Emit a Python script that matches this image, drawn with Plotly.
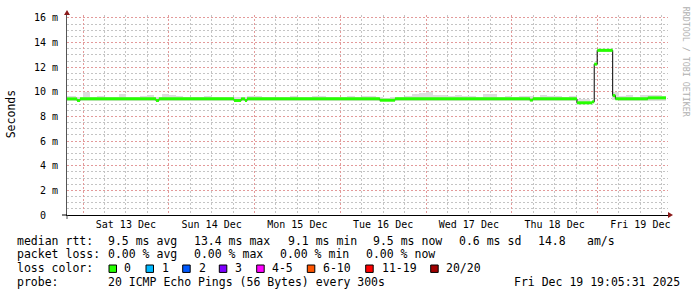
import plotly.graph_objects as go
import pandas as pd

# ---------------- data ----------------
median_times = [
    "2025-12-12 19:00", "2025-12-12 22:20", "2025-12-12 23:10", "2025-12-13 20:25",
    "2025-12-13 21:15", "2025-12-14 18:15", "2025-12-14 20:15", "2025-12-14 21:20",
    "2025-12-14 21:55", "2025-12-16 11:05", "2025-12-16 15:20", "2025-12-18 05:05",
    "2025-12-18 05:55", "2025-12-18 18:15", "2025-12-18 22:30", "2025-12-18 23:05",
    "2025-12-18 23:55", "2025-12-19 04:15", "2025-12-19 05:00", "2025-12-19 14:05",
]
median_ms = [
    9.43, 9.30, 9.43, 9.30,
    9.43, 9.30, 9.43, 9.30,
    9.43, 9.32, 9.43, 9.33,
    9.43, 9.11, 9.19, 12.25,
    13.37, 9.70, 9.43, 9.51,
]
data_end = "2025-12-19 19:10"

smoke_start = "2025-12-12 18:00"
smoke_step_hours = 2
smoke_hi = [
    9.70, 9.70, 9.60, 9.95, 9.60, 9.65, 9.55, 9.55, 9.83, 9.55,
    9.60, 9.65, 9.73, 9.55, 9.85, 9.75, 9.65, 9.55, 9.55, 9.60,
    9.65, 9.60, 9.55, 9.55, 9.55, 9.55, 9.70, 9.65, 9.55, 9.55,
    9.55, 9.60, 9.65, 9.55, 9.55, 9.65, 9.65, 9.55, 9.55, 9.60,
    9.70, 9.55, 9.65, 9.65, 9.55, 9.50, 9.55, 9.55, 9.70, 9.85,
    9.90, 10.0, 9.73, 9.73, 9.70, 9.73, 9.65, 9.65, 9.60, 9.85,
    9.85, 9.55, 9.65, 9.55, 9.65, 9.70, 9.55, 9.78, 9.70, 9.65,
    9.60, 9.65, 9.43, 9.43, None, 13.45, 13.45, 10.0, 9.65, 9.73,
    9.60, 9.73, 9.73, 9.78, 9.65,
]
smoke_lo = [9.25] * 72 + [9.05, 9.05, None, 13.30, 13.30, 9.30] + [9.25] * 7

day_label_times = ["2025-12-13 12:00", "2025-12-14 12:00", "2025-12-15 12:00",
                   "2025-12-16 12:00", "2025-12-17 12:00", "2025-12-18 12:00",
                   "2025-12-19 12:00"]
day_labels = ["Sat 13 Dec", "Sun 14 Dec", "Mon 15 Dec", "Tue 16 Dec",
              "Wed 17 Dec", "Thu 18 Dec", "Fri 19 Dec"]

y_tick_values = [0, 2, 4, 6, 8, 10, 12, 14, 16]
y_tick_labels = ["0\u00a0\u00a0", "2 m", "4 m", "6 m", "8 m", "10 m", "12 m", "14 m", "16 m"]

rtt_stats = ["9.5 ms avg", "13.4 ms max", "9.1 ms min", "9.5 ms now", "0.6 ms sd", "14.8", "am/s"]
loss_stats = ["0.00 % avg", "0.00 % max", "0.00 % min", "0.00 % now"]
loss_labels = ["0", "1", "2", "3", "4-5", "6-10", "11-19", "20/20"]
loss_colors = ["#26ff00", "#00b8ff", "#0059ff", "#7e00ff", "#ff00ff", "#ff5500", "#ff0000", "#a10000"]
probe_text = "20 ICMP Echo Pings (56 Bytes) every 300s"
timestamp_text = "Fri Dec 19 19:05:31 2025"
watermark = "RRDTOOL / TOBI OETIKER"

x_range = ["2025-12-12 19:31", "2025-12-19 19:44"]
y_max = 16.24

# ---------------- geometry helpers ----------------
W, H = 697, 297
ML, MR, MT, MB = 67, 29, 13, 82
PW, PH = W - ML - MR, H - MT - MB


def px(xp):
    return (xp - ML) / PW


def py(yp):
    return (H - MB - yp) / PH


MONO = "DejaVu Sans Mono"
MAJOR = "#e39a9a"
MINOR = "#c4c4c4"
DASH = "2px,2px"

fig = go.Figure()

# smoke blocks
t0 = pd.Timestamp(smoke_start)
step = pd.Timedelta(hours=smoke_step_hours)
end_ts = pd.Timestamp(data_end)
cx, cy, cb, cw = [], [], [], []
for i, (lo, hi) in enumerate(zip(smoke_lo, smoke_hi)):
    if lo is None or hi is None:
        continue
    s = t0 + i * step
    e = min(s + step, end_ts)
    if e <= s:
        continue
    cx.append(s + (e - s) / 2)
    cw.append((e - s).total_seconds() * 1000)
    cb.append(lo)
    cy.append(hi - lo)
fig.add_trace(go.Bar(x=cx, y=cy, base=cb, width=cw,
                     marker=dict(color="#dddddd", line=dict(width=0)),
                     hoverinfo="skip", showlegend=False))

# black step line of the median
mt = [pd.Timestamp(t) for t in median_times] + [end_ts]
mv = list(median_ms) + [median_ms[-1]]
fig.add_trace(go.Scatter(x=mt, y=mv, mode="lines",
                         line=dict(color="#000000", width=1, shape="hv"),
                         hoverinfo="skip", showlegend=False))

# green horizontal segments (loss 0)
gx, gy = [], []
for i in range(len(median_ms)):
    gx += [mt[i], mt[i + 1], None]
    gy += [median_ms[i], median_ms[i], None]
fig.add_trace(go.Scatter(x=gx, y=gy, mode="lines",
                         line=dict(color=loss_colors[0], width=3),
                         connectgaps=False, hoverinfo="skip", showlegend=False))

# invisible carrier for the day-label axis
fig.add_trace(go.Scatter(x=[day_label_times[0]], y=[0], xaxis="x2", mode="markers",
                         marker=dict(opacity=0), hoverinfo="skip", showlegend=False))

fig.update_layout(
    width=W, height=H,
    margin=dict(l=ML, r=MR, t=MT, b=MB, pad=0),
    paper_bgcolor="white", plot_bgcolor="white",
    showlegend=False,
    font=dict(family=MONO, size=10, color="black"),
    bargap=0,
    xaxis=dict(
        type="date", range=x_range, showticklabels=False, ticks="",
        tickmode="linear", tick0="2025-12-13 00:00", dtick=86400000,
        showgrid=True, gridcolor=MAJOR, gridwidth=1, griddash=DASH,
        minor=dict(tickmode="linear", tick0="2025-12-13 00:00", dtick=6 * 3600000,
                   showgrid=True, gridcolor=MINOR, gridwidth=1, griddash=DASH),
        showline=True, linecolor="#000000", linewidth=1, zeroline=False,
    ),
    xaxis2=dict(
        type="date", range=x_range, overlaying="x", anchor="y", side="bottom",
        tickmode="array", tickvals=day_label_times, ticktext=day_labels,
        showgrid=False, ticks="", showline=False, zeroline=False,
        ticklabelstandoff=2,
        tickfont=dict(family=MONO, size=10, color="black"),
    ),
    yaxis=dict(
        range=[0, y_max], tickmode="array", tickvals=y_tick_values, ticktext=y_tick_labels,
        showgrid=True, gridcolor=MAJOR, gridwidth=1, griddash=DASH,
        minor=dict(tickmode="linear", tick0=0, dtick=0.5, showgrid=True,
                   gridcolor=MINOR, gridwidth=1, griddash=DASH),
        showline=True, linecolor="#555555", linewidth=1, zeroline=False,
        ticks="", ticklabelstandoff=6,
        tickfont=dict(family=MONO, size=10, color="black"),
    ),
)

ARROW = "#8b1a1a"
shapes = [
    dict(type="path", xref="paper", yref="paper", xsizemode="pixel", ysizemode="pixel",
         xanchor=0, yanchor=1, path="M -3,0 L 3,0 L 0,5 Z",
         fillcolor=ARROW, line=dict(color=ARROW, width=0)),
    dict(type="path", xref="paper", yref="paper", xsizemode="pixel", ysizemode="pixel",
         xanchor=1, yanchor=0, path="M 0,-3 L 0,3 L 5,0 Z",
         fillcolor=ARROW, line=dict(color=ARROW, width=0)),
    dict(type="path", xref="paper", yref="paper", xsizemode="pixel", ysizemode="pixel",
         xanchor=0, yanchor=0, path="M 0,0 L 0,-4", line=dict(color="#555555", width=1)),
    dict(type="path", xref="paper", yref="paper", xsizemode="pixel", ysizemode="pixel",
         xanchor=0, yanchor=0, path="M 0,0 L -5,0", line=dict(color="#000000", width=1)),
]

# legend boxes
box_left = [109, 146, 182.7, 219.3, 256.7, 307.3, 365.7, 430.7]
for bl, col in zip(box_left, loss_colors):
    shapes.append(dict(type="rect", xref="paper", yref="paper",
                       x0=px(bl), x1=px(bl + 7.5), y0=py(273), y1=py(265.5),
                       fillcolor=col, line=dict(color="#000000", width=1)))
fig.update_layout(shapes=shapes)

LF = dict(family=MONO, size=11.5, color="black")
ann = []


def text(xp, yp, s, **kw):
    d = dict(x=px(xp - 1), y=py(yp), xref="paper", yref="paper", text=s,
             showarrow=False, xanchor="left", yanchor="middle", font=LF)
    d.update(kw)
    ann.append(d)


y1, y2, y3, y4 = 241.3, 254.7, 269.0, 282.5
text(16, y1, "median rtt:")
for xp, s in zip([107.3, 193.3, 286.7, 372.3, 458.3, 537.3, 586], rtt_stats):
    text(xp, y1, s)
text(16, y2, "packet loss:")
for xp, s in zip([107.3, 193.3, 279.3, 365], loss_stats):
    text(xp, y2, s)
text(16, y3, "loss color:")
for xp, s in zip([123.3, 161, 197.7, 234.3, 271, 321.7, 380.7, 445.3], loss_labels):
    text(xp, y3, s)
text(16, y4, "probe:")
text(107.3, y4, probe_text)
text(513.3, y4, timestamp_text)

ann.append(dict(x=px(10.8), y=py(113.5), xref="paper", yref="paper", text="Seconds",
                showarrow=False, xanchor="center", yanchor="middle", textangle=-90,
                font=dict(family=MONO, size=11.5, color="black")))
ann.append(dict(x=px(686.7), y=py(60), xref="paper", yref="paper", text=watermark,
                showarrow=False, xanchor="center", yanchor="middle", textangle=90,
                font=dict(family=MONO, size=8.3, color="#b0b0b0")))
fig.update_layout(annotations=ann)

fig.write_html("out.html")
